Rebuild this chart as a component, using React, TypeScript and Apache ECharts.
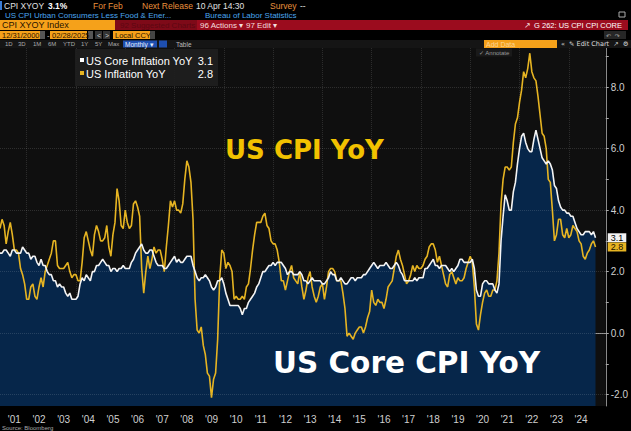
import React, { useEffect, useRef } from 'react';
import * as echarts from 'echarts';

// Monthly YoY % from Dec 2000 to Feb 2025
const headline = [3.4,
  3.7, 3.5, 2.9, 3.3, 3.6, 3.2, 2.7, 2.7, 2.6, 2.1, 1.9, 1.6,
  1.1, 1.1, 1.5, 1.6, 1.2, 1.1, 1.5, 1.8, 1.5, 2.0, 2.2, 2.4,
  2.6, 3.0, 3.0, 2.2, 2.1, 2.1, 2.1, 2.2, 2.3, 2.0, 1.8, 1.9,
  1.9, 1.7, 1.7, 2.3, 3.1, 3.3, 3.0, 2.7, 2.5, 3.2, 3.5, 3.3,
  3.0, 3.0, 3.1, 3.5, 2.8, 2.5, 3.2, 3.6, 4.7, 4.3, 3.5, 3.4,
  4.0, 3.6, 3.4, 3.5, 4.2, 4.3, 4.1, 3.8, 2.1, 1.3, 2.0, 2.5,
  2.1, 2.4, 2.8, 2.6, 2.7, 2.7, 2.4, 2.0, 2.8, 3.5, 4.3, 4.1,
  4.3, 4.0, 4.0, 3.9, 4.2, 5.0, 5.6, 5.4, 4.9, 3.7, 1.1, 0.1,
  0.0, 0.2, -0.4, -0.7, -1.3, -1.4, -2.1, -1.5, -1.3, -0.2, 1.8, 2.7,
  2.6, 2.1, 2.3, 2.2, 2.0, 1.1, 1.2, 1.1, 1.1, 1.2, 1.1, 1.5,
  1.6, 2.1, 2.7, 3.2, 3.6, 3.6, 3.6, 3.8, 3.9, 3.5, 3.4, 3.0,
  2.9, 2.9, 2.7, 2.3, 1.7, 1.7, 1.4, 1.7, 2.0, 2.2, 1.8, 1.7,
  1.6, 2.0, 1.5, 1.1, 1.4, 1.8, 2.0, 1.5, 1.2, 1.0, 1.2, 1.5,
  1.6, 1.1, 1.5, 2.0, 2.1, 2.1, 2.0, 1.7, 1.7, 1.7, 1.3, 0.8,
  -0.1, 0.0, -0.1, -0.2, 0.0, 0.1, 0.2, 0.2, 0.0, 0.2, 0.5, 0.7,
  1.4, 1.0, 0.9, 1.1, 1.0, 1.0, 0.8, 1.1, 1.5, 1.6, 1.7, 2.1,
  2.5, 2.7, 2.4, 2.2, 1.9, 1.6, 1.7, 1.9, 2.2, 2.0, 2.2, 2.1,
  2.1, 2.2, 2.4, 2.5, 2.8, 2.9, 2.9, 2.7, 2.3, 2.5, 2.2, 1.9,
  1.6, 1.5, 1.9, 2.0, 1.8, 1.6, 1.8, 1.7, 1.7, 1.8, 2.1, 2.3,
  2.5, 2.3, 1.5, 0.3, 0.1, 0.6, 1.0, 1.3, 1.4, 1.2, 1.2, 1.4,
  1.4, 1.7, 2.6, 4.2, 5.0, 5.4, 5.4, 5.3, 5.4, 6.2, 6.8, 7.0,
  7.5, 7.9, 8.5, 8.3, 8.6, 9.1, 8.5, 8.3, 8.2, 7.7, 7.1, 6.5,
  6.4, 6.0, 5.0, 4.9, 4.0, 3.0, 3.2, 3.7, 3.7, 3.2, 3.1, 3.4,
  3.1, 3.2, 3.5, 3.4, 3.3, 3.0, 2.9, 2.5, 2.4, 2.6, 2.7, 2.9,
  3.0, 2.8];

const core = [2.6,
  2.6, 2.7, 2.7, 2.6, 2.5, 2.7, 2.7, 2.6, 2.6, 2.6, 2.8, 2.7,
  2.6, 2.6, 2.4, 2.5, 2.5, 2.3, 2.2, 2.4, 2.2, 2.2, 2.0, 1.9,
  1.9, 1.7, 1.7, 1.5, 1.6, 1.5, 1.5, 1.3, 1.2, 1.3, 1.1, 1.1,
  1.1, 1.2, 1.6, 1.8, 1.7, 1.9, 1.8, 1.7, 2.0, 2.0, 2.2, 2.2,
  2.3, 2.4, 2.3, 2.2, 2.2, 2.0, 2.1, 2.1, 2.0, 2.1, 2.1, 2.2,
  2.1, 2.1, 2.1, 2.3, 2.4, 2.6, 2.7, 2.8, 2.9, 2.7, 2.6, 2.6,
  2.7, 2.7, 2.5, 2.3, 2.2, 2.2, 2.2, 2.1, 2.1, 2.2, 2.3, 2.4,
  2.5, 2.3, 2.4, 2.3, 2.3, 2.4, 2.5, 2.5, 2.5, 2.2, 2.0, 1.8,
  1.7, 1.8, 1.8, 1.9, 1.8, 1.7, 1.5, 1.4, 1.5, 1.7, 1.7, 1.8,
  1.6, 1.3, 1.1, 0.9, 0.9, 0.9, 0.9, 0.9, 0.8, 0.6, 0.8, 0.8,
  1.0, 1.1, 1.2, 1.3, 1.5, 1.6, 1.8, 2.0, 2.0, 2.1, 2.2, 2.2,
  2.3, 2.2, 2.3, 2.3, 2.3, 2.2, 2.1, 1.9, 2.0, 2.0, 1.9, 1.9,
  1.9, 2.0, 1.9, 1.7, 1.7, 1.6, 1.7, 1.8, 1.7, 1.7, 1.7, 1.7,
  1.6, 1.6, 1.7, 1.8, 2.0, 1.9, 1.9, 1.7, 1.7, 1.8, 1.7, 1.6,
  1.6, 1.7, 1.8, 1.8, 1.7, 1.8, 1.8, 1.8, 1.9, 1.9, 2.0, 2.1,
  2.2, 2.3, 2.2, 2.1, 2.2, 2.2, 2.2, 2.3, 2.2, 2.1, 2.1, 2.2,
  2.3, 2.2, 2.0, 1.9, 1.7, 1.7, 1.7, 1.7, 1.7, 1.8, 1.7, 1.8,
  1.8, 1.8, 2.1, 2.1, 2.2, 2.3, 2.4, 2.2, 2.2, 2.1, 2.2, 2.2,
  2.2, 2.1, 2.0, 2.1, 2.0, 2.1, 2.2, 2.4, 2.4, 2.3, 2.3, 2.3,
  2.3, 2.4, 2.1, 1.4, 1.2, 1.2, 1.6, 1.7, 1.7, 1.6, 1.6, 1.6,
  1.4, 1.3, 1.6, 3.0, 3.8, 4.5, 4.3, 4.0, 4.0, 4.6, 4.9, 5.5,
  6.0, 6.4, 6.5, 6.2, 6.0, 5.9, 5.9, 6.3, 6.6, 6.3, 6.0, 5.7,
  5.6, 5.5, 5.6, 5.5, 5.3, 4.8, 4.7, 4.3, 4.1, 4.0, 4.0, 3.9,
  3.9, 3.8, 3.8, 3.6, 3.4, 3.3, 3.2, 3.2, 3.3, 3.3, 3.3, 3.2,
  3.3, 3.1];

const yLabelValues = [-2, 0, 2, 4, 6, 8];
const yTickValues = [-2, -1, 0, 1, 2, 3, 4, 5, 6, 7, 8, 9];
const yMin = -2.37;
const yMax = 9.27;
const firstLabelYear = 2001;
const lastLabelYear = 2024;
const categoryCount = 296; // Dec 2000 .. Jul 2025

function buildCategories(): string[] {
  const out: string[] = [];
  let y = 2000;
  let m = 12;
  for (let i = 0; i < categoryCount; i++) {
    out.push(y + '-' + (m < 10 ? '0' + m : '' + m));
    m++;
    if (m > 12) { m = 1; y++; }
  }
  return out;
}

const SANS = '"Liberation Sans", Arial, sans-serif';
const DV = '"DejaVu Sans", sans-serif';
const ORANGE = '#f5a11a';
const GOLD = '#e6b422';

function txt(text: string, x: number, y: number, fill: string, font: string, align = 'left', vAlign = 'middle') {
  return {
    type: 'text', z: 100, silent: true,
    style: { text, x, y, fill, font, textAlign: align, align, textVerticalAlign: vAlign, verticalAlign: vAlign },
  };
}
function box(x: number, y: number, w: number, h: number, fill: string) {
  return { type: 'rect', z: 99, silent: true, shape: { x, y, width: w, height: h }, style: { fill } };
}

export default function App() {
  const ref = useRef<HTMLDivElement>(null);
  useEffect(() => {
    if (!ref.current) return;
    const chart = echarts.init(ref.current, null, { renderer: 'svg' });
    const cats = buildCategories();
    const lastCore = core[core.length - 1];
    const lastHead = headline[headline.length - 1];

    const graphic: any[] = [
      // row 1
      box(0, 1, 2, 9, '#3a7bd5'),
      txt('CPI XYOY', 4, 5.5, '#e0e0e0', '8.5px ' + SANS),
      txt('3.1%', 48, 5.5, '#ffffff', 'bold 8.5px ' + SANS),
      txt('For Feb', 93, 5.5, '#e8903c', '8.5px ' + SANS),
      txt('Next Release', 142, 5.5, '#e8903c', '8.5px ' + SANS),
      txt('10 Apr 14:30', 196, 5.5, '#e0e0e0', '8.5px ' + SANS),
      txt('Survey', 270, 5.5, '#e8903c', '8.5px ' + SANS),
      txt('--', 300, 5.5, '#e0e0e0', '8.5px ' + SANS),
      // row 2
      txt('US CPI Urban Consumers Less Food & Ener...', 5, 15, '#4aa6ee', '8px ' + SANS),
      txt('Bureau of Labor Statistics', 205, 15, '#4aa6ee', '8px ' + SANS),
      { type: 'rect', z: 99, silent: true, shape: { x: 619, y: 12, width: 6, height: 5 }, style: { fill: 'none', stroke: '#aaa', lineWidth: 1 } },
      // row 3
      box(0, 20, 115, 10, ORANGE),
      txt('CPI XYOY Index', 2, 25, '#2a1400', '9px ' + SANS),
      box(115, 20, 513, 10, '#9b0c1e'),
      box(115, 20, 82, 10, '#7e0a18'),
      txt('92 Suggested Charts', 120, 25, '#5c0812', '8px ' + SANS),
      txt('96 Actions \u25BE', 200, 25, '#f3dede', '8px ' + SANS),
      txt('97 Edit \u25BE', 246, 25, '#f3dede', '8px ' + SANS),
      txt('\u2197', 524, 25, '#f3dede', '8px ' + DV),
      txt('G 262: US CPI CPI CORE', 622, 25, '#ffffff', '7.5px ' + SANS, 'right'),
      // row 4
      box(0, 31, 40, 8, ORANGE),
      txt('12/31/2000', 2, 35, '#2a1400', '7.5px ' + SANS),
      box(40, 31, 5, 8, '#555'),
      txt('-', 47, 35, '#ccc', '7.5px ' + SANS),
      box(50, 31, 37, 8, ORANGE),
      txt('02/28/2025', 52, 35, '#2a1400', '7.5px ' + SANS),
      box(88, 31, 5, 8, '#555'),
      box(95, 31, 7, 8, '#333'),
      txt('<', 97, 35, '#ccc', '7px ' + SANS),
      box(103, 31, 7, 8, '#333'),
      txt('>', 105, 35, '#ccc', '7px ' + SANS),
      box(113, 31, 37, 8, ORANGE),
      txt('Local CCY', 115, 35, '#2a1400', '7.5px ' + SANS),
      box(150, 31, 5, 8, '#444'),
      box(604, 31, 22, 8, '#262626'),
      txt('\u21B6  \u21B7', 606, 35, '#aaa', '6px ' + DV),
      // row 5
      box(0, 40, 631, 8, '#151515'),
      txt('1D', 5, 44, '#aaa', '6px ' + SANS),
      txt('3D', 18, 44, '#aaa', '6px ' + SANS),
      txt('1M', 33, 44, '#aaa', '6px ' + SANS),
      txt('6M', 48, 44, '#aaa', '6px ' + SANS),
      txt('YTD', 63, 44, '#aaa', '6px ' + SANS),
      txt('1Y', 81, 44, '#aaa', '6px ' + SANS),
      txt('5Y', 95, 44, '#aaa', '6px ' + SANS),
      txt('Max', 108, 44, '#aaa', '6px ' + SANS),
      box(123, 40.5, 34, 7, '#1e4fb0'),
      txt('Monthly \u25BE', 125, 44, '#e8eefc', '6.5px ' + SANS),
      box(159, 40.5, 8, 7, '#1e4fb0'),
      txt('Table', 176, 44, '#bbb', '6.5px ' + SANS),
      box(484, 40, 73, 8, ORANGE),
      txt('Add Data', 486, 44, '#fbd596', '7px ' + SANS),
      txt('\u00AB  \u270E Edit Chart  \u2197  \u2699', 561, 44, '#ddd', '6.5px ' + DV),
      // annotate
      box(476, 48.5, 36, 8, '#1a1a1a'),
      txt('\u2713 Annotate', 479, 52.5, '#999', '6px ' + SANS),
      // legend
      box(75, 49, 143, 37, 'rgba(30,30,30,0.92)'),
      box(80, 58, 4, 4, '#ffffff'),
      txt('US Core Inflation YoY', 86, 60.5, '#ffffff', '11px ' + SANS),
      txt(lastCore.toFixed(1), 213, 60.5, '#ffffff', '11px ' + SANS, 'right'),
      box(80, 71, 4, 4, GOLD),
      txt('US Inflation YoY', 86, 73.5, '#ffffff', '11px ' + SANS),
      txt(lastHead.toFixed(1), 213, 73.5, '#ffffff', '11px ' + SANS, 'right'),
      // titles
      txt('US CPI YoY', 225, 150, '#f2c200', 'bold 26px ' + DV),
      txt('US Core CPI YoY', 273, 363, '#ffffff', 'bold 29.5px ' + DV),
      // source
      txt('Source: Bloomberg', 2, 425, '#aaa', '6px ' + SANS, 'left', 'top'),
    ];

    const endAxis = (val: number, bg: string, fg: string) => ({
      type: 'value', position: 'right', min: yMin, max: yMax,
      axisLine: { show: false }, axisTick: { show: false }, splitLine: { show: false },
      axisLabel: {
        customValues: [val], formatter: (v: number) => v.toFixed(1),
        color: fg, backgroundColor: bg, padding: [0, 3, 0, 3], fontSize: 9, lineHeight: 9,
        fontFamily: SANS, margin: 2,
      },
    });

    chart.setOption({
      animation: false,
      backgroundColor: '#000000',
      grid: { left: 0, right: 25, top: 48, bottom: 25, show: true, backgroundColor: '#0f0f0f', borderWidth: 0 },
      xAxis: {
        type: 'category', data: cats, boundaryGap: false,
        axisLine: { show: true, lineStyle: { color: '#8a8a8a', width: 1 } },
        axisTick: { show: true, interval: (_i: number, v: string) => v.endsWith('-01'), length: 13, lineStyle: { color: '#4a4a4a' } },
        axisLabel: {
          interval: (_i: number, v: string) => v.endsWith('-07') && +v.slice(0, 4) >= firstLabelYear && +v.slice(0, 4) <= lastLabelYear,
          formatter: (v: string) => "'" + v.slice(2, 4),
          color: '#cfcfcf', fontSize: 10, fontFamily: SANS, margin: 8,
        },
        splitLine: {
          show: true,
          interval: (_i: number, v: string) => v.endsWith('-01') && (+v.slice(0, 4)) % 2 === 0,
          lineStyle: { color: 'rgba(255,255,255,0.12)', type: 'dotted', width: 1 },
        },
      },
      yAxis: [
        {
          type: 'value', position: 'right', min: yMin, max: yMax,
          axisLine: { show: true, lineStyle: { color: '#8a8a8a', width: 1 } },
          axisTick: { show: true, customValues: yTickValues, length: 3, lineStyle: { color: '#aaa' } },
          axisLabel: { customValues: yLabelValues, formatter: (v: number) => v.toFixed(1), color: '#cfcfcf', fontSize: 10, fontFamily: SANS, margin: 5 },
          splitLine: { show: false },
        },
        endAxis(lastCore, '#f2f2f2', '#000000'),
        endAxis(lastHead, GOLD, '#1a1200'),
      ],
      graphic,
      series: [
        {
          name: 'core-area', type: 'line', data: core, yAxisIndex: 0, symbol: 'none', silent: true, z: 1,
          lineStyle: { width: 0, opacity: 0 },
          areaStyle: { color: '#06264a', opacity: 1, origin: 'start' },
          markLine: {
            silent: true, symbol: 'none', label: { show: false },
            lineStyle: { color: 'rgba(255,255,255,0.13)', type: 'dotted', width: 1 },
            data: yLabelValues.map((v) => ({ yAxis: v })),
          },
        },
        {
          name: 'US Inflation YoY', type: 'line', data: headline, yAxisIndex: 0, symbol: 'none', z: 3,
          lineStyle: { color: GOLD, width: 1.6 },
        },
        {
          name: 'US Core Inflation YoY', type: 'line', data: core, yAxisIndex: 0, symbol: 'none', z: 4,
          lineStyle: { color: '#f4f4f4', width: 1.6 },
        },
      ],
    });
    return () => chart.dispose();
  }, []);
  return <div ref={ref} style={{ position: 'fixed', left: 0, top: 0, width: 631, height: 431 }} />;
}
